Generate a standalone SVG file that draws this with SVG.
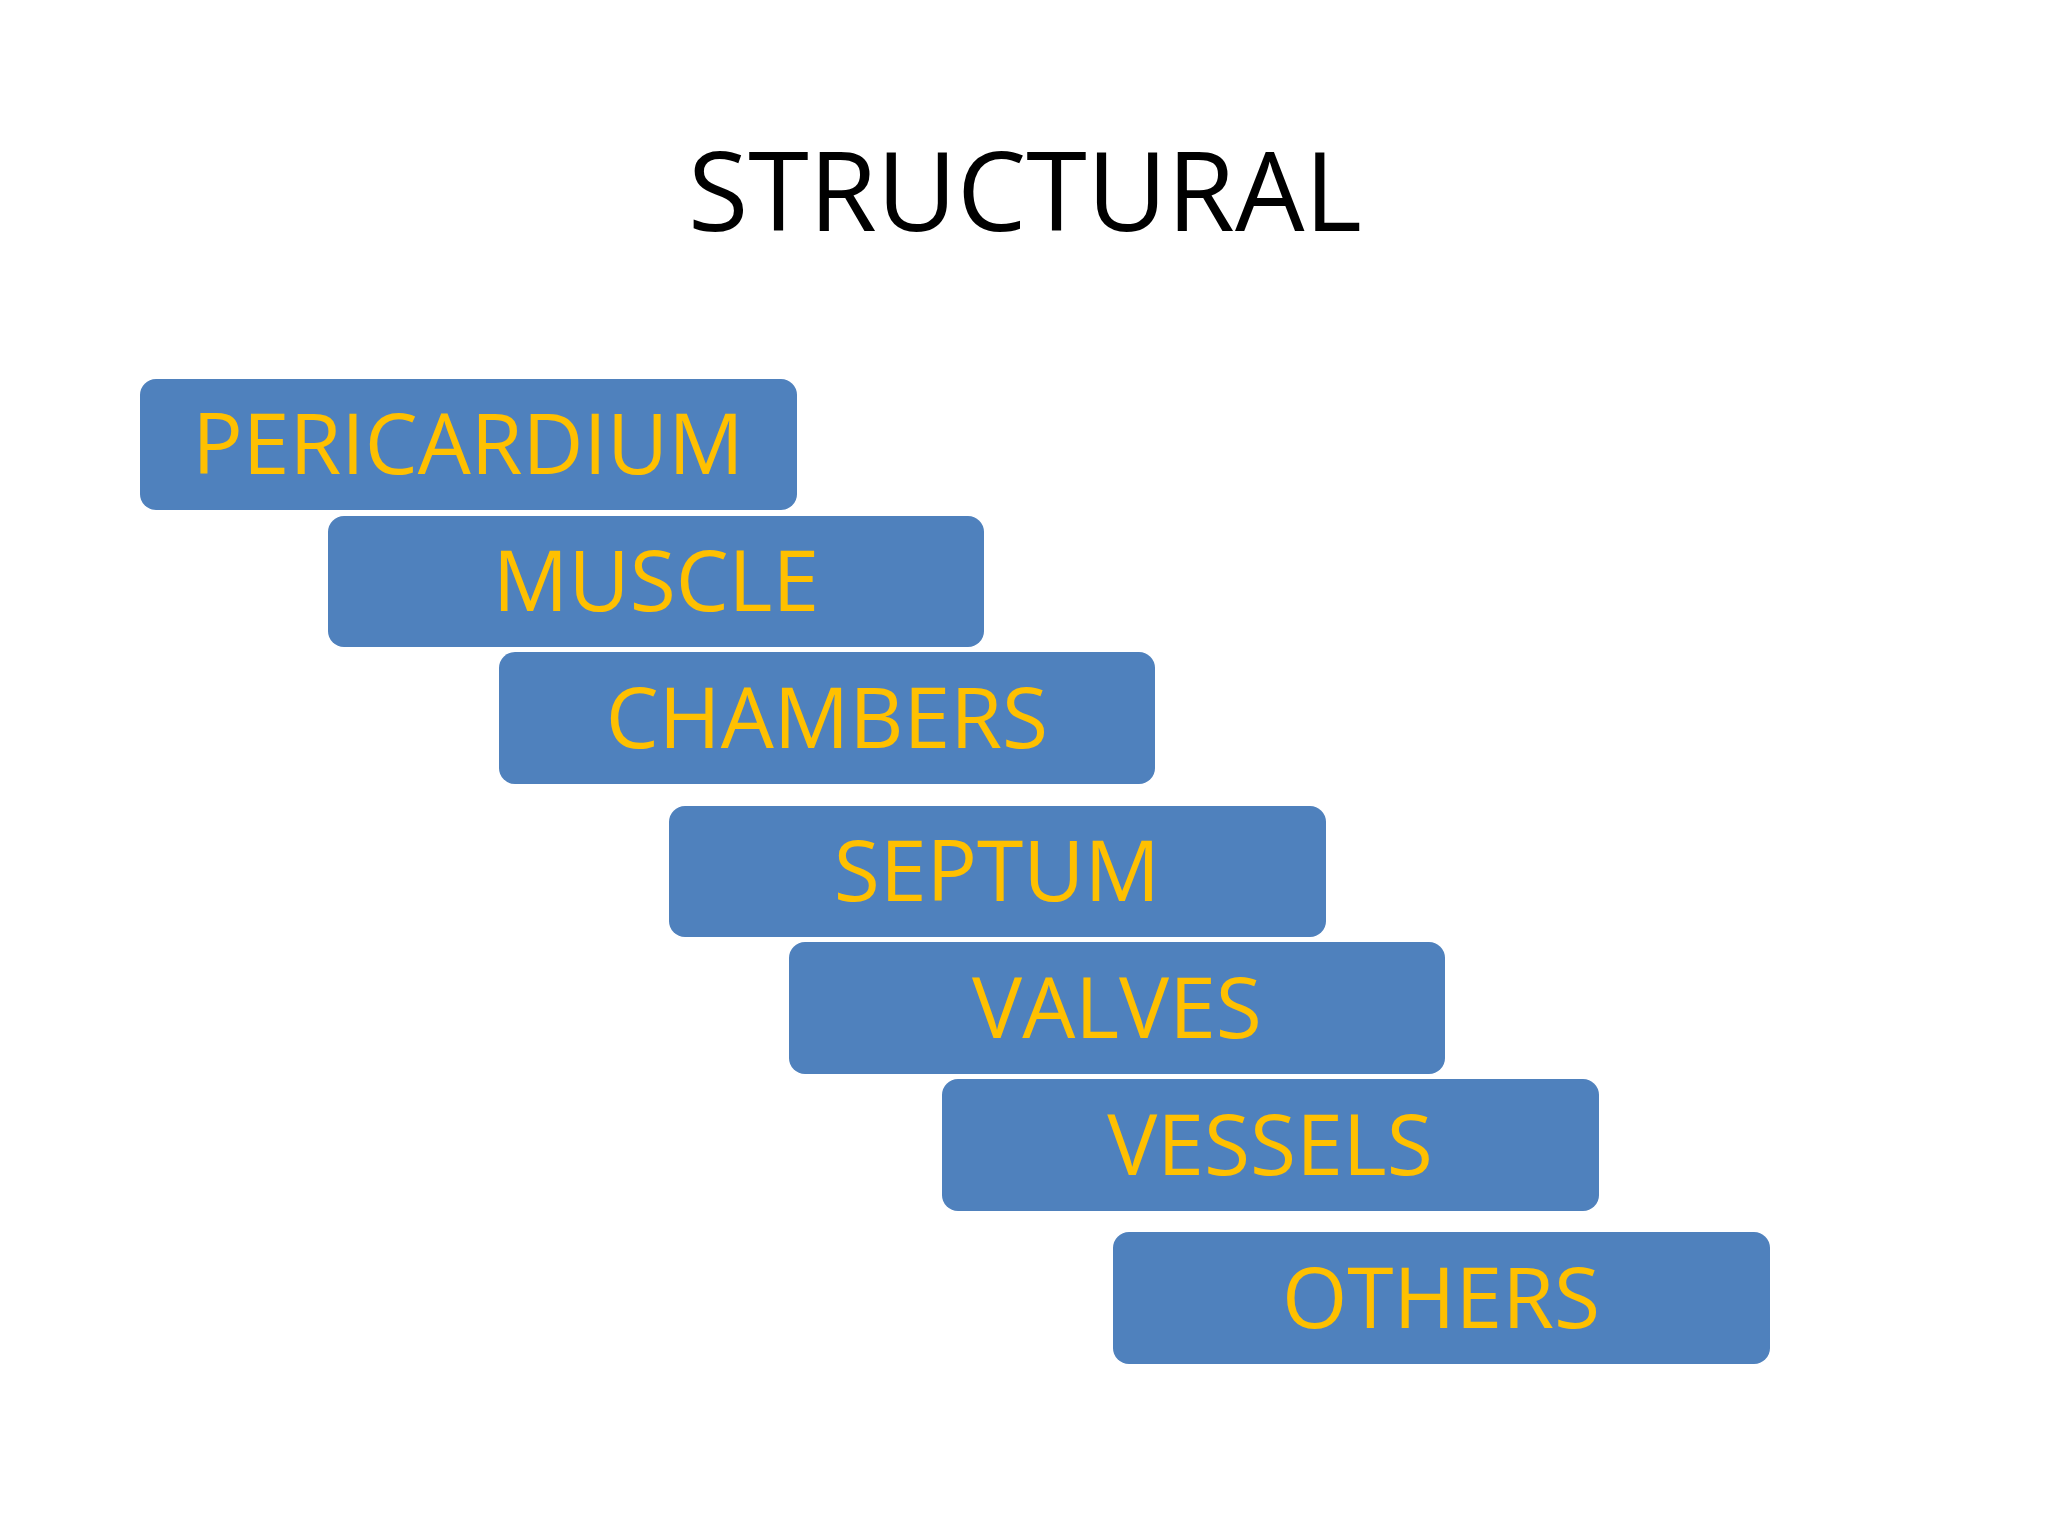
<svg xmlns="http://www.w3.org/2000/svg" width="2048" height="1536" viewBox="0 0 2048 1536">
<style>
.b{fill:#4f81bd}
.t{font-family:"Open Sans","Liberation Sans",sans-serif;font-size:84px;fill:#ffc000;text-anchor:middle}
</style>
<rect width="2048" height="1536" fill="#ffffff"/>
<text x="1025" y="231" font-family="Open Sans, Liberation Sans, sans-serif" font-size="110" text-anchor="middle" fill="#000">STRUCTURAL</text>
<g id="connectors"/>
<g id="n1"><rect class="b" x="140" y="379" width="657" height="131" rx="16"/><text class="t" x="468" y="474">PERICARDIUM</text></g>
<g id="n2"><rect class="b" x="328" y="516" width="656" height="131" rx="16"/><text class="t" x="656" y="611">MUSCLE</text></g>
<g id="n3"><rect class="b" x="499" y="652" width="656" height="132" rx="16"/><text class="t" x="827" y="748">CHAMBERS</text></g>
<g id="n4"><rect class="b" x="669" y="806" width="657" height="131" rx="16"/><text class="t" x="997" y="901">SEPTUM</text></g>
<g id="n5"><rect class="b" x="789" y="942" width="656" height="132" rx="16"/><text class="t" x="1117" y="1038">VALVES</text></g>
<g id="n6"><rect class="b" x="942" y="1079" width="657" height="132" rx="16"/><text class="t" x="1270" y="1175">VESSELS</text></g>
<g id="n7"><rect class="b" x="1113" y="1232" width="657" height="132" rx="16"/><text class="t" x="1441" y="1328">OTHERS</text></g>
</svg>
